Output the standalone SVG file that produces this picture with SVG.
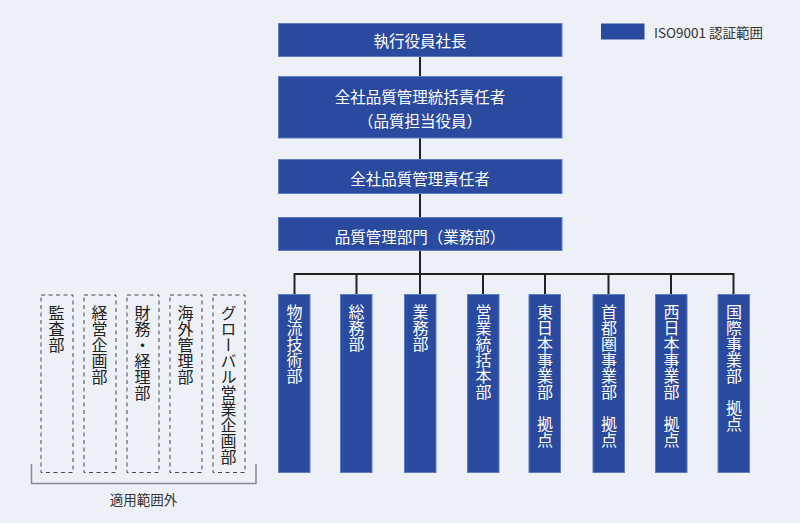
<svg xmlns="http://www.w3.org/2000/svg" width="800" height="523" viewBox="0 0 800 523">
<style>
.box{fill:#2a4a9f;stroke:#5f7cc2;stroke-width:1}
.t{font-family:"Noto Sans CJK JP","Noto Sans",sans-serif;font-size:15.5px;fill:#ffffff;text-anchor:middle;dominant-baseline:central}
.v{font-family:"Noto Sans CJK JP","Noto Sans",sans-serif;font-size:16px;fill:#ffffff;writing-mode:vertical-rl;text-anchor:start}
.vd{fill:#222222}
.dash{fill:none;stroke:#444444;stroke-width:1;stroke-dasharray:4 3.5}
.conn{fill:none;stroke:#222222;stroke-width:2}
.lbl{font-family:"Noto Sans CJK JP","Noto Sans",sans-serif;font-size:13.5px;fill:#333333;dominant-baseline:central}
</style>
<rect width="800" height="523" fill="#edf1f7"/>
<g id="legend">
<rect x="601" y="23.5" width="43.5" height="16" fill="#2a4a9f"/>
<text class="lbl" x="654" y="32">ISO9001 認証範囲</text>
</g>
<g id="connectors">
<path class="conn" d="M420 57V76M420 138V159.5M420 193.5V217M420 251V274M294.5 274H733.5M294.5 273V294M356.5 273V294M483 273V294M545 273V294M608.5 273V294M671 273V294M733.5 273V294M420 273V294"/>
</g>
<g id="n-president"><rect class="box" x="278.5" y="23.5" width="283.5" height="33"/><text class="t" x="420" y="40">執行役員社長</text></g>
<g id="n-chief"><rect class="box" x="278.5" y="76.5" width="283.5" height="61.5"/><text class="t" x="420" y="96">全社品質管理統括責任者</text><text class="t" x="420" y="120">（品質担当役員）</text></g>
<g id="n-manager"><rect class="box" x="278.5" y="159.5" width="283.5" height="34"/><text class="t" x="420" y="177.5">全社品質管理責任者</text></g>
<g id="n-qadept"><rect class="box" x="278.5" y="217.5" width="283.5" height="33"/><text class="t" x="420" y="235.5">品質管理部門（業務部）</text></g>
<g id="c1"><rect class="box" x="278.5" y="294.5" width="31.5" height="178"/><text class="v" x="294.5" y="304">物流技術部</text></g>
<g id="c2"><rect class="box" x="340.5" y="294.5" width="31.5" height="178"/><text class="v" x="356.5" y="304">総務部</text></g>
<g id="c3"><rect class="box" x="404.5" y="294.5" width="31.5" height="178"/><text class="v" x="420.5" y="304">業務部</text></g>
<g id="c4"><rect class="box" x="467.5" y="294.5" width="31.5" height="178"/><text class="v" x="483.5" y="304">営業統括本部</text></g>
<g id="c5"><rect class="box" x="529" y="294.5" width="31.5" height="178"/><text class="v" x="545" y="304">東日本事業部　拠点</text></g>
<g id="c6"><rect class="box" x="593" y="294.5" width="31.5" height="178"/><text class="v" x="609" y="304">首都圏事業部　拠点</text></g>
<g id="c7"><rect class="box" x="655.5" y="294.5" width="31.5" height="178"/><text class="v" x="671.5" y="304">西日本事業部　拠点</text></g>
<g id="c8"><rect class="box" x="718" y="294.5" width="31.5" height="178"/><text class="v" x="734" y="304">国際事業部　拠点</text></g>
<g id="x1"><rect class="dash" x="41" y="295" width="32" height="177.5"/><text class="v vd" x="56.5" y="304.5">監査部</text></g>
<g id="x2"><rect class="dash" x="84" y="295" width="32" height="177.5"/><text class="v vd" x="99.5" y="304.5">経営企画部</text></g>
<g id="x3"><rect class="dash" x="127" y="295" width="32" height="177.5"/><text class="v vd" x="142.5" y="304.5">財務・経理部</text></g>
<g id="x4"><rect class="dash" x="170" y="295" width="32" height="177.5"/><text class="v vd" x="185.5" y="304.5">海外管理部</text></g>
<g id="x5"><rect class="dash" x="213" y="295" width="32" height="177.5"/><text class="v vd" x="228.5" y="304.5">グローバル営業企画部</text></g>
<g id="scope">
<path d="M31.5 464V483.5H256V464" fill="none" stroke="#888888" stroke-width="1.5"/>
<text class="lbl" x="143.5" y="499" text-anchor="middle">適用範囲外</text>
</g>
</svg>
